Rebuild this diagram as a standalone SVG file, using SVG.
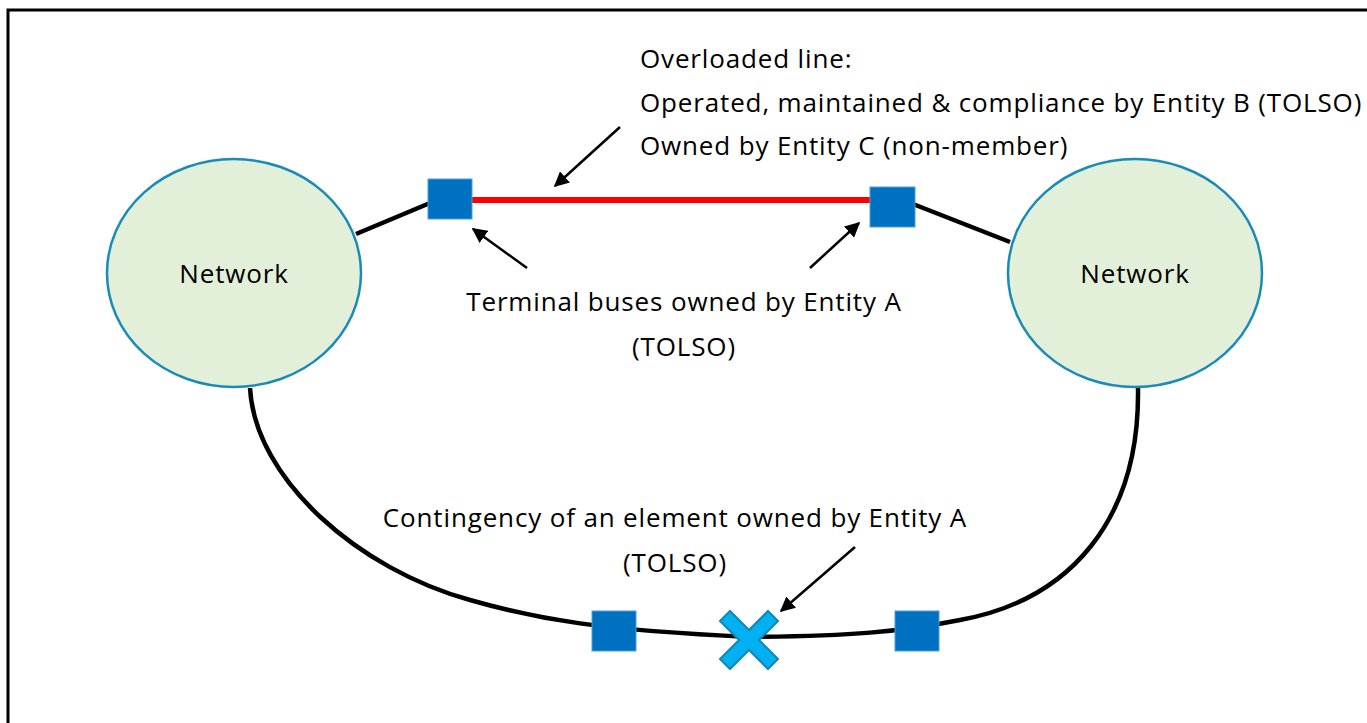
<svg xmlns="http://www.w3.org/2000/svg" width="1367" height="723" viewBox="0 0 1367 723">
<defs>
<style>
.t{font-family:"Open Sans","Noto Sans","Liberation Sans",sans-serif;font-size:26px;letter-spacing:0.85px;fill:#000}
.net{fill:#E2EFD9;stroke:#1A8BB8;stroke-width:2.5}
.bus{fill:#0070C0;stroke:#4A9FDD;stroke-width:1}
.wire{fill:none;stroke:#000;stroke-width:4.5}
.arr{stroke:#000;stroke-width:2.5;marker-end:url(#ah)}
</style>
<marker id="ah" viewBox="0 0 10 10" refX="9" refY="5" markerWidth="6" markerHeight="6" markerUnits="strokeWidth" orient="auto">
<path d="M0,0 L10,5 L0,10 z" fill="#000"/>
</marker>
</defs>
<rect x="0" y="0" width="1367" height="723" fill="#fff"/>
<path d="M8,723 V10 H1367" fill="none" stroke="#000" stroke-width="3"/>
<g id="connectors">
<line class="wire" x1="356" y1="234" x2="430" y2="203"/>
<line class="wire" x1="913" y1="204" x2="1010" y2="242"/>
<path class="wire" d="M250,388 C255,480 360,570 470,600 C540,620 600,630 750,637 C850,636 900,632 960,620 C1070,600 1140,520 1138,388"/>
<line x1="471" y1="200" x2="871" y2="200" stroke="#FF0000" stroke-width="6"/>
<line class="arr" x1="620" y1="127" x2="555" y2="186"/>
<line class="arr" x1="527" y1="268" x2="473" y2="229"/>
<line class="arr" x1="810" y1="268" x2="859" y2="223"/>
<line class="arr" x1="855" y1="547" x2="781" y2="611"/>
</g>
<g id="network-left">
<ellipse class="net" cx="234" cy="273" rx="127" ry="114"/>
<text class="t" x="234" y="283" text-anchor="middle">Network</text>
</g>
<g id="network-right">
<ellipse class="net" cx="1135" cy="273" rx="127" ry="114"/>
<text class="t" x="1135" y="283" text-anchor="middle">Network</text>
</g>
<g id="bus-top-left"><rect class="bus" x="428" y="179" width="44" height="40"/></g>
<g id="bus-top-right"><rect class="bus" x="870" y="187" width="45" height="40"/></g>
<g id="bus-bottom-left"><rect class="bus" x="592" y="611" width="44" height="40"/></g>
<g id="bus-bottom-right"><rect class="bus" x="895" y="611" width="44" height="40"/></g>
<g id="contingency-x">
<path d="M0,-10 L19,-29 L29,-19 L10,0 L29,19 L19,29 L0,10 L-19,29 L-29,19 L-10,0 L-29,-19 L-19,-29 Z" transform="translate(749,640)" fill="#00B0F0" stroke="#1287B5" stroke-width="2"/>
</g>
<g id="label-overloaded">
<text class="t" x="640" y="68">Overloaded line:</text>
<text class="t" x="640" y="112">Operated, maintained &amp; compliance by Entity B (TOLSO)</text>
<text class="t" x="640" y="155">Owned by Entity C (non-member)</text>
</g>
<g id="label-terminal">
<text class="t" x="684" y="311" text-anchor="middle">Terminal buses owned by Entity A</text>
<text class="t" x="684" y="356" text-anchor="middle">(TOLSO)</text>
</g>
<g id="label-contingency">
<text class="t" x="675" y="527" text-anchor="middle">Contingency of an element owned by Entity A</text>
<text class="t" x="675" y="572" text-anchor="middle">(TOLSO)</text>
</g>
</svg>
